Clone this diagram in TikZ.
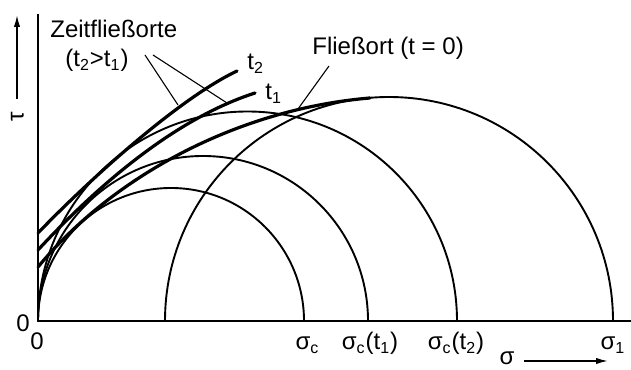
\documentclass[tikz,border=0pt]{standalone}
\usepackage{fontspec}
\setmainfont{Liberation Sans}
\usepackage{tikz}
\usetikzlibrary{arrows.meta}

\begin{document}
\begin{tikzpicture}[
    x=5pt, y=5pt,
    font=\fontsize{12}{14.4}\selectfont,
    axis/.style={line width=1pt},
    mohr/.style={line width=0.95pt},
    envelope/.style={line width=1.6pt, line cap=round},
    leader/.style={line width=0.55pt},
    lbl/.style={inner sep=0pt, anchor=base},
    lblw/.style={inner sep=0pt, anchor=base west},
    axisarrow/.style={line width=0.8pt, -{Latex[length=6pt, width=3.2pt]}}
]
\useasboundingbox (-3.8,-4.8) rectangle (59.3,32.1);

% ---------- Axes ----------
\coordinate (origin) at (0,0);
\coordinate (ytop) at (0,30.7);
\coordinate (xend) at (59.3,0);
\draw[axis] (ytop) -- (origin) -- (xend);

% ---------- Mohr circles ----------
\draw[mohr] (26.6,0) arc[start angle=0, end angle=180, radius=13.3];
\draw[mohr] (33.0,0) arc[start angle=0, end angle=180, radius=16.5];
\draw[mohr] (41.9,0) arc[start angle=0, end angle=180, radius=20.95];
\draw[mohr] (57.5,0) arc[start angle=0, end angle=180, radius=22.4];

% ---------- Envelopes ----------
\draw[envelope] (0,5.4) .. controls (7.5,14.5) and (20,21.2) .. (33.2,22.3);
\draw[envelope] (0,7.1) .. controls (5,12.5) and (13,20) .. (21.7,22.8);
\draw[envelope] (0,8.8) .. controls (5,14) and (14,22.2) .. (19.9,25.0);

% ---------- Labels ----------
\node[lblw] (zeitlbl) at (1.2,28.3) {Zeitfließorte};
\node[lblw] (zeitcond) at (2.7,25.4) {(t\textsubscript{2}>t\textsubscript{1})};
\node[lblw] (tzwei) at (20.9,25.1) {t\textsubscript{2}};
\node[lblw] (teins) at (22.7,22.1) {t\textsubscript{1}};
\node[lblw] (fliesslbl) at (27.4,26.6) {Fließort (t = 0)};

\node[lbl] (zeroy) at (-1.5,-1.1) {0};
\node[lbl] (zerox) at (-0.1,-2.85) {0};
\node[lbl] (sigc) at (26.95,-2.85) {σ\textsubscript{c}};
\node[lbl] (sigcteins) at (33.2,-2.85) {σ\textsubscript{c}(t\textsubscript{1})};
\node[lbl] (sigctzwei) at (41.8,-2.85) {σ\textsubscript{c}(t\textsubscript{2})};
\node[lbl] (sigeins) at (57.5,-2.85) {σ\textsubscript{1}};

% ---------- Leader lines ----------
\coordinate (leadA) at (10.7,26.6);
\coordinate (leadB) at (11.5,26.6);
\coordinate (ontzwei) at (14.0,21.6);
\coordinate (onteins) at (18.9,21.8);
\coordinate (leadC) at (29.1,25.5);
\coordinate (onfliess) at (26.0,21.2);
\draw[leader] (leadA) -- (ontzwei);
\draw[leader] (leadB) -- (onteins);
\draw[leader] (leadC) -- (onfliess);

% ---------- Axis names ----------
\node[rotate=90, inner sep=0pt] (taulbl) at (-2.05,20.4) {τ};
\coordinate (tauarrA) at (-2.1,22.2);
\coordinate (tauarrB) at (-2.1,30.6);
\draw[axisarrow] (tauarrA) -- (tauarrB);

\node[lbl] (siglbl) at (46.9,-4.35) {σ};
\coordinate (sigarrA) at (48.6,-4.0);
\coordinate (sigarrB) at (57.0,-4.0);
\draw[axisarrow] (sigarrA) -- (sigarrB);

\end{tikzpicture}
\end{document}
